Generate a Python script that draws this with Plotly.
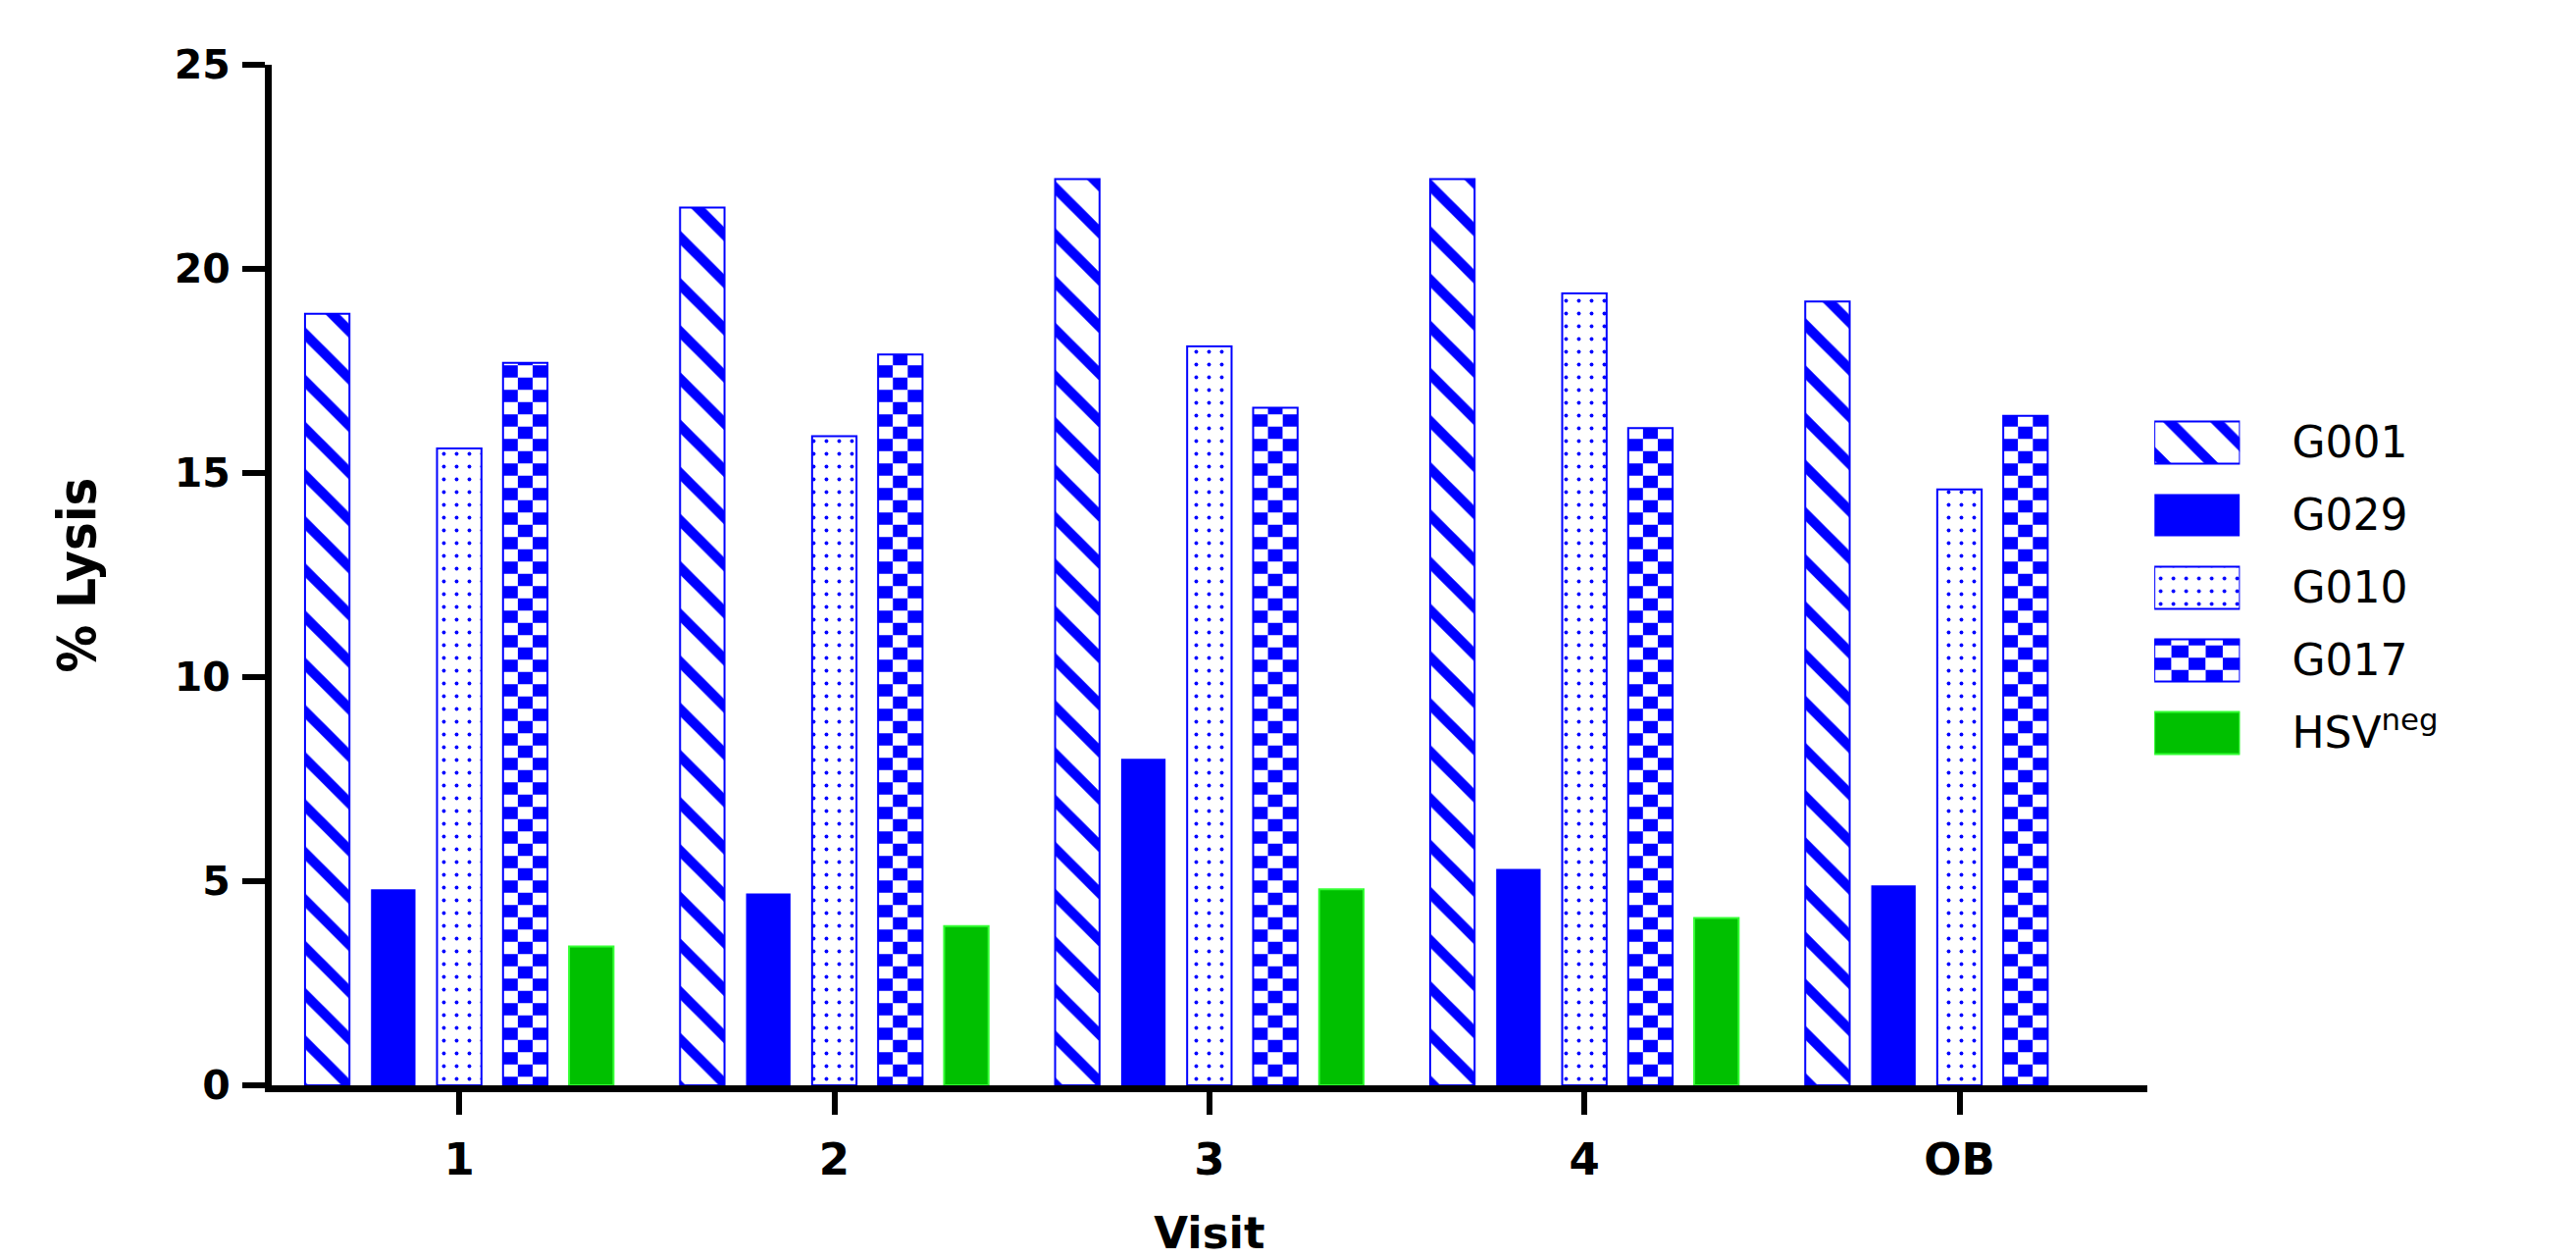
import plotly.graph_objects as go

# ---------------- data ----------------
categories = ['1', '2', '3', '4', 'OB']
g001 = [18.9, 21.5, 22.2, 22.2, 19.2]
g029 = [4.8, 4.7, 8.0, 5.3, 4.9]
g010 = [15.6, 15.9, 18.1, 19.4, 14.6]
g017 = [17.7, 17.9, 16.6, 16.1, 16.4]
hsv_neg = [3.4, 3.9, 4.8, 4.1, None]
series_keys = ['G001', 'G029', 'G010', 'G017', 'HSVneg']
series_labels = ['G001', 'G029', 'G010', 'G017', 'HSV<sup>neg</sup>']
y_ticks = [0, 5, 10, 15, 20, 25]

# ---------------- styles ----------------
BLUE = '#0000FF'
GREEN = '#00C000'
GREEN_EDGE = '#33FF33'
WHITE = '#FFFFFF'
BLACK = '#000000'
SLOT = 0.176
BARW = 0.1185
NCOL = 3       # checkerboard columns per G017 bar
NCOL_LEG = 5   # checkerboard columns in legend swatch
LEG_W = 0.58
TICK_FONT = 'DejaVu Sans'


def offset(i):
    return (i - 2) * SLOT - BARW / 2


def marker_for(key):
    if key == 'G001':
        return dict(color=WHITE, line=dict(color=BLUE, width=2),
                    pattern=dict(shape='\\', fgcolor=BLUE, bgcolor=WHITE, fgopacity=1,
                                 fillmode='overlay', size=34, solidity=0.3))
    if key == 'G029':
        return dict(color=BLUE, line=dict(color=BLUE, width=0))
    if key == 'G010':
        return dict(color=WHITE, line=dict(color=BLUE, width=2),
                    pattern=dict(shape='.', fgcolor=BLUE, bgcolor=WHITE, fgopacity=1,
                                 fillmode='overlay', size=13, solidity=0.07))
    if key == 'HSVneg':
        return dict(color=GREEN, line=dict(color=GREEN_EDGE, width=2))


def checker_column_marker(j):
    fg, bg = (BLUE, WHITE) if j % 2 == 0 else (WHITE, BLUE)
    return dict(color=bg, line=dict(width=0),
                pattern=dict(shape='-', fgcolor=fg, bgcolor=bg, fgopacity=1,
                             fillmode='overlay', size=25, solidity=0.5))


OUTLINE = dict(color='rgba(0,0,0,0)', line=dict(color=BLUE, width=2))

fig = go.Figure()

values = {'G001': g001, 'G029': g029, 'G010': g010, 'G017': g017, 'HSVneg': hsv_neg}

# ---------------- main bars ----------------
for i, key in enumerate(series_keys):
    name = series_labels[i]
    vals = values[key]
    if key == 'G017':
        for j in range(NCOL):
            fig.add_trace(go.Bar(x=categories, y=vals,
                                 offset=offset(i) + j * BARW / NCOL, width=BARW / NCOL,
                                 marker=checker_column_marker(j),
                                 name=name, showlegend=False, hoverinfo='skip'))
        fig.add_trace(go.Bar(x=categories, y=vals, offset=offset(i), width=BARW,
                             marker=OUTLINE, name=name, showlegend=False))
    else:
        fig.add_trace(go.Bar(x=categories, y=vals, offset=offset(i), width=BARW,
                             marker=marker_for(key), name=name, showlegend=False))

# ---------------- legend swatches (subplot) ----------------
for i, key in enumerate(series_keys):
    if key == 'G017':
        for j in range(NCOL_LEG):
            fig.add_trace(go.Bar(y=[key], x=[1 / NCOL_LEG], base=[j / NCOL_LEG],
                                 orientation='h', width=LEG_W,
                                 marker=checker_column_marker(j),
                                 xaxis='x2', yaxis='y2', showlegend=False, hoverinfo='skip'))
        fig.add_trace(go.Bar(y=[key], x=[1], base=[0], orientation='h', width=LEG_W,
                             marker=OUTLINE, xaxis='x2', yaxis='y2',
                             showlegend=False, hoverinfo='skip'))
    else:
        fig.add_trace(go.Bar(y=[key], x=[1], base=[0], orientation='h', width=LEG_W,
                             marker=marker_for(key), xaxis='x2', yaxis='y2',
                             showlegend=False, hoverinfo='skip'))

fig.update_layout(
    width=2626, height=1283,
    margin=dict(l=277, r=10, t=66, b=177, autoexpand=False),
    paper_bgcolor=WHITE, plot_bgcolor=WHITE,
    barmode='overlay',
    showlegend=False,
    xaxis=dict(
        domain=[0, 0.8173], anchor='y', automargin=False,
        type='category', categoryorder='array', categoryarray=categories,
        range=[-0.5, 4.5],
        showline=True, linewidth=7, linecolor=BLACK,
        ticks='outside', ticklen=23, tickwidth=6, tickcolor=BLACK,
        ticklabelstandoff=7,
        tickfont=dict(family=TICK_FONT, size=45, color=BLACK, weight='bold'),
        title=dict(text='Visit', standoff=42,
                   font=dict(family=TICK_FONT, size=45, color=BLACK, weight='bold')),
        showgrid=False, zeroline=False,
    ),
    yaxis=dict(
        domain=[0, 1], anchor='x', automargin=False,
        range=[0, 25], tickvals=y_ticks,
        showline=True, linewidth=7, linecolor=BLACK,
        ticks='outside', ticklen=23, tickwidth=6, tickcolor=BLACK,
        ticklabelstandoff=4,
        tickfont=dict(family=TICK_FONT, size=41, color=BLACK, weight='bold'),
        title=dict(text='% Lysis', standoff=65,
                   font=dict(family='Liberation Sans Narrow, DejaVu Sans Condensed, sans-serif',
                             size=54, color=BLACK, weight='bold')),
        showgrid=False, zeroline=False,
    ),
    xaxis2=dict(domain=[0.8205, 0.8578], anchor='y2', range=[0, 1], visible=False,
                fixedrange=True),
    yaxis2=dict(domain=[0.3096, 0.6654], anchor='x2', side='right', automargin=False,
                type='category', categoryorder='array', categoryarray=series_keys,
                range=[4.5, -0.5], tickvals=series_keys, ticktext=series_labels,
                showline=False, ticks='', showgrid=False, zeroline=False,
                ticklabelstandoff=52,
                tickfont=dict(family=TICK_FONT, size=44, color=BLACK),
                fixedrange=True),
)

fig.write_html("out.html", config={'displayModeBar': False},
               post_script="document.body.style.margin='0';")
